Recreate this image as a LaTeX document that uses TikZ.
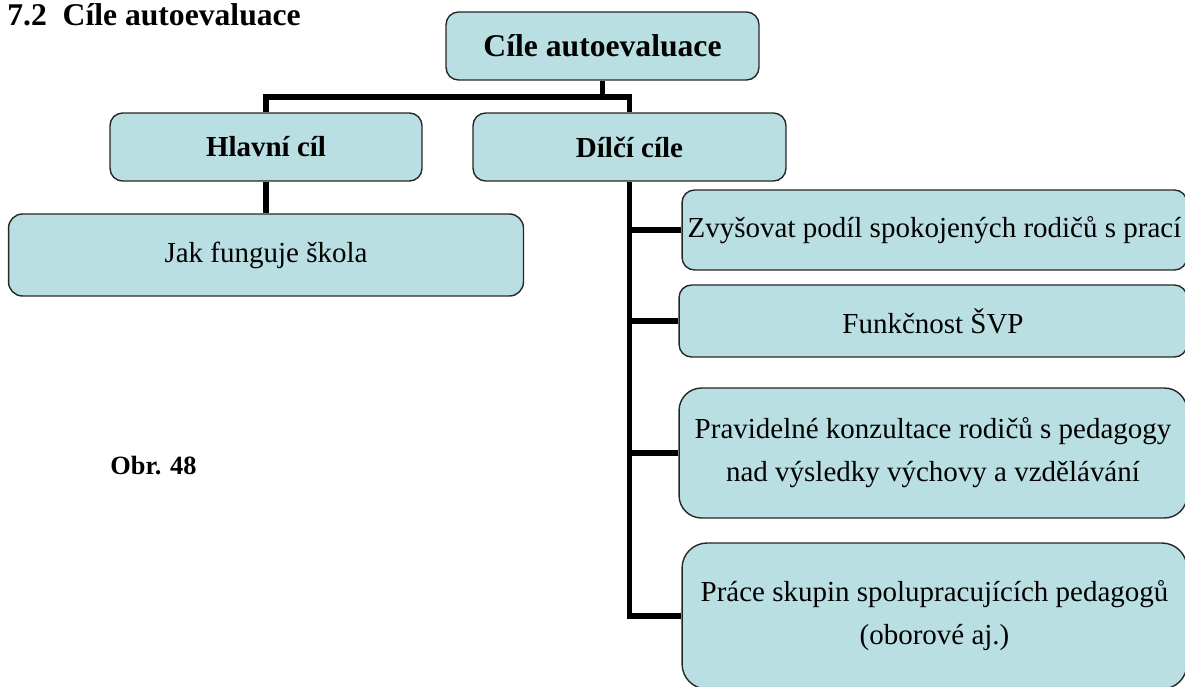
\documentclass[tikz,border=0pt]{standalone}
\usepackage{fontspec}
\setmainfont{Liberation Serif}
\usetikzlibrary{positioning}
\definecolor{boxfill}{RGB}{185,223,227}

\begin{document}
\begin{tikzpicture}[x=0.02cm, y=-0.02cm,
    box/.style={draw=black!85, line width=0.8pt, fill=boxfill, rounded corners=0.25cm, align=center, inner sep=2pt, font=\fontsize{16.5}{24.4}\selectfont},
    headbox/.style={box, font=\fontsize{16.5}{20}\bfseries\selectfont},
    conn/.style={line width=3pt},
    lbl/.style={anchor=base west, inner sep=0pt}
]
\useasboundingbox (0,0) rectangle (1185,686);

\node[lbl, font=\fontsize{18}{20}\bfseries\selectfont] (title) at (7,26) {7.2\enspace Cíle autoevaluace};
\node[lbl, font=\fontsize{15}{18}\bfseries\selectfont] (obr) at (110,474) {Obr. 48};

\node[headbox, font=\fontsize{18}{20}\bfseries\selectfont, minimum width=6.26cm, minimum height=1.36cm] (root) at (602.5,46) {Cíle autoevaluace};
\node[headbox, minimum width=6.24cm, minimum height=1.36cm] (hlavni) at (266,147) {Hlavní cíl};
\node[headbox, minimum width=6.26cm, minimum height=1.36cm] (dilci) at (629.5,147) {Dílčí cíle};
\node[box, rounded corners=0.28cm, minimum width=10.3cm, minimum height=1.64cm] (jak) at (266,255) {Jak funguje škola};

\node[box, minimum width=10.1cm, minimum height=1.6cm] (box1) at (934.5,230) {Zvyšovat podíl spokojených rodičů s prací};
\node[box, minimum width=10.16cm, minimum height=1.44cm] (box2) at (933,321) {Funkčnost ŠVP};
\node[box, rounded corners=0.45cm, minimum width=10.16cm, minimum height=2.6cm] (box3) at (933,453) {Pravidelné konzultace rodičů s pedagogy\\nad výsledky výchovy a vzdělávání};
\node[box, rounded corners=0.5cm, minimum width=10.1cm, minimum height=2.92cm] (box4) at (934.5,616) {Práce skupin spolupracujících pedagogů\\(oborové aj.)};

\coordinate (split) at (602.5,97);
\draw[conn] (root.south) -- (split);
\draw[conn] (hlavni.north) |- (split) -| (dilci.north);
\draw[conn] (hlavni.south) -- (jak.north);
\draw[conn] (dilci.south) |- (box4.west);
\foreach \b in {box1,box2,box3}
  \draw[conn] (dilci.south |- \b.west) -- (\b.west);
\end{tikzpicture}
\end{document}
